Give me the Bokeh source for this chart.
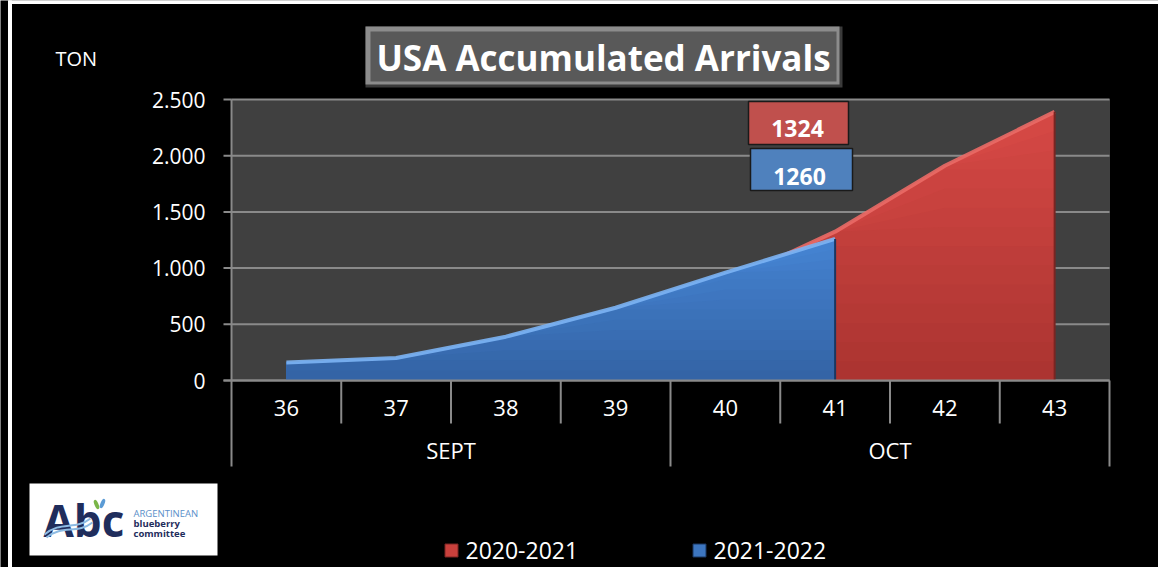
from bokeh.plotting import figure
from bokeh.models import Range1d
from bokeh.core.properties import value
from bokeh.embed import file_html
from bokeh.resources import INLINE

# ---------------- data ----------------
weeks = [36, 37, 38, 39, 40, 41, 42, 43]
months = ["SEPT", "SEPT", "SEPT", "SEPT", "OCT", "OCT", "OCT", "OCT"]
season_2020_21 = [140, 185, 350, 590, 870, 1324, 1910, 2390]
season_2021_22 = [160, 200, 390, 647, 960, 1260]
series_names = ["2020-2021", "2021-2022"]
y_ticks = [0, 500, 1000, 1500, 2000, 2500]
y_tick_labels = ["0", "500", "1.000", "1.500", "2.000", "2.500"]
title_text = "USA Accumulated Arrivals"
y_unit = "TON"

# ---------------- layout ----------------
W, H = 1158, 567
X_LEFT_PX = 231      # px of left edge of plot area
X_STEP = 109.75      # px per category
Y_ZERO_PX = 380      # px of value 0
Y_TOP_PX = 99        # px of top tick
Y_MAX = y_ticks[-1]
FONT = "Open Sans"
AXIS_GREY = "#8a8a8a"

RED_TOP, RED_BOTTOM = (212, 72, 68), (172, 52, 49)
RED = "#c9403c"
RED_HI = "#ea6a66"
RED_EDGE = "#7a2522"
BLUE_TOP, BLUE_BOTTOM = (68, 130, 208), (52, 100, 166)
BLUE = "#3d76c0"
BLUE_HI = "#7cb4f4"
BLUE_EDGE = "#1b3761"
BANDS = 14


def xd(px):
    return (weeks[0] - 0.5) + (px - X_LEFT_PX) / X_STEP


def yd(py):
    return (Y_ZERO_PX - py) * Y_MAX / (Y_ZERO_PX - Y_TOP_PX)


def mix(c0, c1, t):
    return "#%02x%02x%02x" % tuple(int(round(a + (b - a) * t)) for a, b in zip(c0, c1))


p = figure(width=W, height=H, output_backend="svg", toolbar_location=None,
           x_range=Range1d(xd(0), xd(W)),
           y_range=Range1d(yd(H), yd(0)),
           x_axis_location=None, y_axis_location=None, min_border=0)
p.background_fill_color = "black"
p.border_fill_color = "black"
p.outline_line_color = None
p.xgrid.visible = False
p.ygrid.visible = False

lo = weeks[0] - 0.5
hi = weeks[-1] + 0.5

# white frame lines (left and top)
p.quad(left=xd(8), right=xd(11), bottom=yd(H), top=yd(0), color="white")
p.quad(left=xd(8), right=xd(W), bottom=yd(3), top=yd(0), color="white")

# plot area background
p.quad(left=lo, right=hi, bottom=0, top=Y_MAX, color="#404040")

# grid lines
p.segment(x0=[lo] * len(y_ticks), x1=[hi] * len(y_ticks), y0=y_ticks, y1=y_ticks,
          line_color=AXIS_GREY, line_width=2)
# y axis line and ticks
p.segment(x0=[lo], x1=[lo], y0=[0], y1=[Y_MAX], line_color=AXIS_GREY, line_width=2)
p.segment(x0=[xd(223)] * len(y_ticks), x1=[lo] * len(y_ticks), y0=y_ticks, y1=y_ticks,
          line_color=AXIS_GREY, line_width=2)
p.text(x=[lo] * len(y_ticks), y=y_ticks, text=y_tick_labels, x_offset=-26,
       text_align="right", text_baseline="middle", text_color="white",
       text_font=value(FONT), text_font_size="21px")

# unit label
p.text(x=[xd(55)], y=[yd(58)], text=[y_unit], text_align="left", text_baseline="middle",
       text_color="white", text_font=value(FONT), text_font_size="20px")


# ---------------- areas (gradient by stacked bands) ----------------
def shaded_area(xs, ys, top_rgb, bottom_rgb, hi_color, edge_color, legend):
    top = max(ys)
    for k in range(BANDS, 0, -1):
        level = top * k / BANDS
        t = (k - 1) / (BANDS - 1)
        p.varea(x=xs, y1=[0] * len(xs), y2=[min(v, level) for v in ys],
                fill_color=mix(bottom_rgb, top_rgb, t))
    p.line(x=xs, y=ys, line_color=hi_color, line_width=4, line_alpha=0.9)
    p.segment(x0=[xs[-1]], x1=[xs[-1]], y0=[0], y1=[ys[-1]],
              line_color=edge_color, line_width=2)


nb = len(season_2021_22)
shaded_area(weeks, season_2020_21, RED_TOP, RED_BOTTOM, RED_HI, RED_EDGE, series_names[0])
shaded_area(weeks[:nb], season_2021_22, BLUE_TOP, BLUE_BOTTOM, BLUE_HI, BLUE_EDGE,
            series_names[1])

# ---------------- category axis ----------------
p.segment(x0=[xd(223)], x1=[hi], y0=[0], y1=[0], line_color=AXIS_GREY, line_width=2)
inner = [w + 0.5 for i, w in enumerate(weeks[:-1]) if months[i] == months[i + 1]]
p.segment(x0=inner, x1=inner, y0=[0] * len(inner), y1=[yd(423)] * len(inner),
          line_color=AXIS_GREY, line_width=2)
groups = []
for m in months:
    if m not in groups:
        groups.append(m)
outer = [lo] + [w + 0.5 for i, w in enumerate(weeks[:-1]) if months[i] != months[i + 1]] + [hi]
p.segment(x0=outer, x1=outer, y0=[0] * len(outer), y1=[yd(466)] * len(outer),
          line_color=AXIS_GREY, line_width=2)
p.text(x=weeks, y=[0] * len(weeks), text=[str(w) for w in weeks], y_offset=27,
       text_align="center", text_baseline="middle", text_color="white",
       text_font=value(FONT), text_font_size="22px")
gx = [sum(w for w, m in zip(weeks, months) if m == g) / months.count(g) for g in groups]
p.text(x=gx, y=[0] * len(groups), text=groups, y_offset=69,
       text_align="center", text_baseline="middle", text_color="white",
       text_font=value(FONT), text_font_size="22px")

# ---------------- data labels ----------------
p.quad(left=[xd(748)], right=[xd(848)], top=[yd(101)], bottom=[yd(144)],
       fill_color="#c0504d", line_color="#1a1a1a", line_width=1.5)
p.text(x=[xd(797)], y=[yd(128)], text=[str(season_2020_21[nb - 1])],
       text_align="center", text_baseline="middle", text_color="white",
       text_font=value(FONT), text_font_style="bold", text_font_size="23px")
p.quad(left=[xd(750)], right=[xd(852)], top=[yd(148)], bottom=[yd(190)],
       fill_color="#4f81bd", line_color="#1a1a1a", line_width=1.5)
p.text(x=[xd(799)], y=[yd(176)], text=[str(season_2021_22[-1])],
       text_align="center", text_baseline="middle", text_color="white",
       text_font=value(FONT), text_font_style="bold", text_font_size="23px")

# ---------------- title box ----------------
p.quad(left=[xd(365)], right=[xd(842)], top=[yd(26)], bottom=[yd(87)],
       fill_color="#3a3a3a", line_color=None)
p.quad(left=[xd(365)], right=[xd(839)], top=[yd(26)], bottom=[yd(84)],
       fill_color="#8c8c8c", line_color=None)
p.quad(left=[xd(370)], right=[xd(836)], top=[yd(31)], bottom=[yd(81)],
       fill_color="#595959", line_color=None)
p.text(x=[xd(603)], y=[yd(57)], text=[title_text], text_align="center",
       text_baseline="middle", text_color="white", text_font=value(FONT),
       text_font_style="bold", text_font_size="35px")

# ---------------- legend ----------------
p.scatter(x=[xd(451), xd(699)], y=[yd(550), yd(550)], marker="square", size=13,
          fill_color=[RED, BLUE], line_color=[RED_EDGE, BLUE_EDGE])
p.text(x=[xd(465), xd(713)], y=[yd(550), yd(550)], text=series_names,
       text_align="left", text_baseline="middle", text_color="white",
       text_font=value(FONT), text_font_size="23px")

# ---------------- logo ----------------
p.quad(left=[xd(29)], right=[xd(217)], top=[yd(483)], bottom=[yd(555)],
       fill_color="white", line_color=None)
p.text(x=[xd(43)], y=[yd(519)], text=["Abc"], text_align="left",
       text_baseline="middle", text_color="#1f2d5c", text_font=value(FONT),
       text_font_style="bold", text_font_size="44px")
p.bezier(x0=[xd(44), xd(46)], y0=[yd(534), yd(537)], x1=[xd(90), xd(92)],
         y1=[yd(518), yd(522)], cx0=[xd(60), xd(62)], cy0=[yd(520), yd(524)],
         cx1=[xd(75), xd(77)], cy1=[yd(530), yd(534)], line_color="#8dbbe3", line_width=2)
p.ellipse(x=[xd(96), xd(102)], y=[yd(504), yd(503)], width=[4 / X_STEP] * 2,
          height=[yd(499) - yd(509)] * 2, angle=[0.4, -0.4],
          fill_color=["#7ab648", "#5b9bd5"], line_color=None)
p.text(x=[xd(133)], y=[yd(513)], text=["ARGENTINEAN"], text_align="left",
       text_baseline="middle", text_color="#5b8fc9", text_font=value(FONT),
       text_font_size="9.5px")
p.text(x=[xd(133), xd(133)], y=[yd(523), yd(533)], text=["blueberry", "committee"],
       text_align="left", text_baseline="middle", text_color="#1f2d5c",
       text_font=value(FONT), text_font_style="bold", text_font_size="9.5px")

open("out.html", "w").write(file_html(p, INLINE))
